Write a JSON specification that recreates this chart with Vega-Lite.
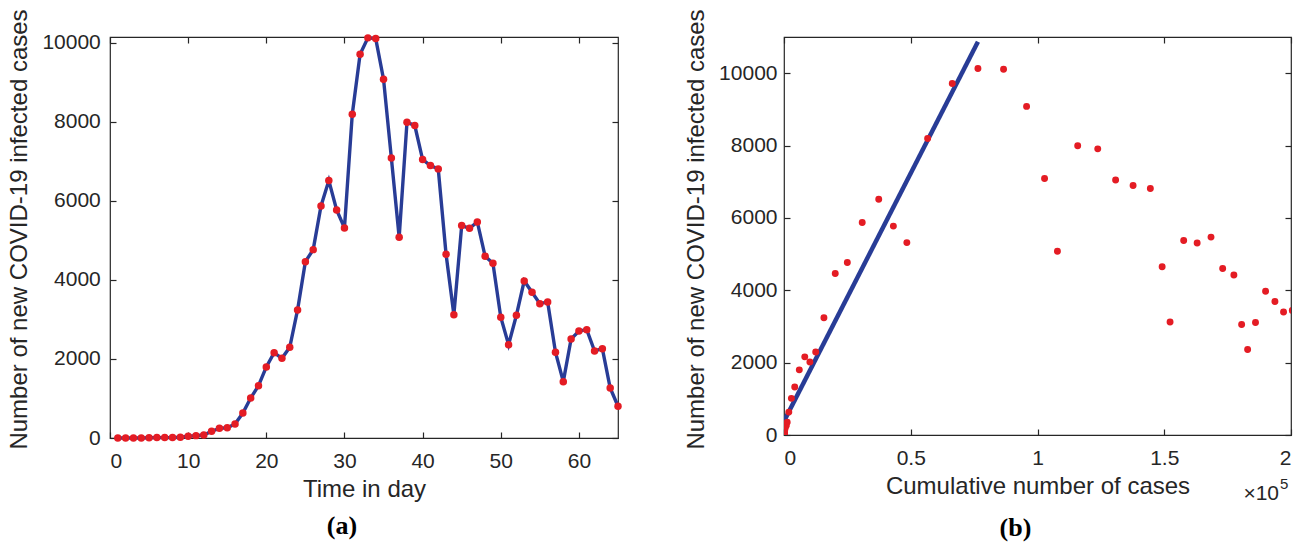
{
  "$schema": "https://vega.github.io/schema/vega-lite/v6.json",
  "background": "white",
  "padding": {"left": 7, "top": 8, "right": 0, "bottom": 0},
  "spacing": 166,
  "bounds": "flush",
  "config": {
    "view": {"stroke": "#262626", "strokeWidth": 1.2},
    "axis": {
      "grid": false, "domain": false,
      "tickColor": "#262626", "tickWidth": 1.2, "tickSize": -6,
      "labelFont": "Liberation Sans", "labelFontSize": 21, "labelColor": "#262626",
      "titleFont": "Liberation Sans", "titleFontSize": 24, "titleFontWeight": "normal", "titleColor": "#262626",
      "labelPadding": 15, "titlePadding": 10, "format": "d"
    },
    "title": {"font": "Liberation Serif", "fontSize": 26, "fontWeight": "bold", "color": "#000000"}
  },
  "datasets": {
    "cases": [
      {"day":1,"new":0,"cum":0},{"day":2,"new":0,"cum":0},{"day":3,"new":0,"cum":0},{"day":4,"new":0,"cum":0},
      {"day":5,"new":5,"cum":5},{"day":6,"new":10,"cum":15},{"day":7,"new":10,"cum":25},{"day":8,"new":10,"cum":35},
      {"day":9,"new":20,"cum":55},{"day":10,"new":45,"cum":100},{"day":11,"new":60,"cum":160},{"day":12,"new":75,"cum":235},
      {"day":13,"new":170,"cum":405},{"day":14,"new":245,"cum":650},{"day":15,"new":260,"cum":910},{"day":16,"new":355,"cum":1265},
      {"day":17,"new":633,"cum":1898},{"day":18,"new":1013,"cum":2911},{"day":19,"new":1325,"cum":4236},{"day":20,"new":1800,"cum":6036},
      {"day":21,"new":2160,"cum":8196},{"day":22,"new":2018,"cum":10214},{"day":23,"new":2296,"cum":12510},{"day":24,"new":3241,"cum":15751},
      {"day":25,"new":4464,"cum":20215},{"day":26,"new":4768,"cum":24983},{"day":27,"new":5874,"cum":30857},{"day":28,"new":6515,"cum":37372},
      {"day":29,"new":5773,"cum":43145},{"day":30,"new":5317,"cum":48462},{"day":31,"new":8196,"cum":56658},{"day":32,"new":9715,"cum":66373},
      {"day":33,"new":10128,"cum":76501},{"day":34,"new":10110,"cum":86611},{"day":35,"new":9082,"cum":95693},{"day":36,"new":7090,"cum":102783},
      {"day":37,"new":5081,"cum":107864},{"day":38,"new":7994,"cum":115858},{"day":39,"new":7908,"cum":123766},{"day":40,"new":7047,"cum":130813},
      {"day":41,"new":6895,"cum":137708},{"day":42,"new":6812,"cum":144520},{"day":43,"new":4651,"cum":149171},{"day":44,"new":3122,"cum":152293},
      {"day":45,"new":5376,"cum":157669},{"day":46,"new":5309,"cum":162978},{"day":47,"new":5469,"cum":168447},{"day":48,"new":4600,"cum":173047},
      {"day":49,"new":4423,"cum":177470},{"day":50,"new":3056,"cum":180526},{"day":51,"new":2362,"cum":182888},{"day":52,"new":3107,"cum":185995},
      {"day":53,"new":3975,"cum":189970},{"day":54,"new":3689,"cum":193659},{"day":55,"new":3401,"cum":197060},{"day":56,"new":3444,"cum":200504},
      {"day":57,"new":2170,"cum":202674},{"day":58,"new":1426,"cum":204100},{"day":59,"new":2507,"cum":206607},{"day":60,"new":2709,"cum":209316},
      {"day":61,"new":2743,"cum":212059},{"day":62,"new":2203,"cum":214262},{"day":63,"new":2262,"cum":216524},{"day":64,"new":1266,"cum":217790},
      {"day":65,"new":803,"cum":218593}
    ],
    "fit": [{"cum":0,"fit":380},{"cum":76501,"fit":10870}],
    "note": [{"base":"×10","exp":"5"}]
  },
  "hconcat": [
    {
      "width": 508, "height": 401,
      "title": {"text": "(a)", "orient": "bottom", "anchor": "middle", "frame": "group", "dx": -22, "offset": 12},
      "layer": [
        {
          "data": {"name": "cases"},
          "mark": {"type": "line", "color": "#283c96", "strokeWidth": 3.4},
          "encoding": {
            "x": {"field": "day", "type": "quantitative", "scale": {"domain": [0, 65], "nice": false, "zero": false},
                  "axis": {"orient": "bottom", "values": [0,10,20,30,40,50,60], "title": "Time in day", "labelPadding": 18, "titlePadding": 6}},
            "y": {"field": "new", "type": "quantitative", "scale": {"domain": [0, 10150], "nice": false},
                  "axis": {"orient": "left", "values": [0,2000,4000,6000,8000,10000], "title": "Number of new COVID-19 infected cases", "labelPadding": 15.7, "titleY": 192}}
          }
        },
        {
          "data": {"name": "cases"},
          "mark": {"type": "point", "filled": true, "color": "#e41c24", "size": 56, "opacity": 1},
          "encoding": {
            "x": {"field": "day", "type": "quantitative", "scale": {"domain": [0, 65], "nice": false, "zero": false},
                  "axis": {"orient": "top", "values": [0,10,20,30,40,50,60], "labels": false, "title": null}},
            "y": {"field": "new", "type": "quantitative", "scale": {"domain": [0, 10150], "nice": false},
                  "axis": {"orient": "right", "values": [0,2000,4000,6000,8000,10000], "labels": false, "title": null}}
          }
        }
      ],
      "resolve": {"axis": {"x": "independent", "y": "independent"}}
    },
    {
      "width": 507, "height": 398,
      "title": {"text": "(b)", "orient": "bottom", "anchor": "middle", "frame": "group", "dx": -22, "offset": 11},
      "layer": [
        {
          "data": {"name": "fit"},
          "mark": {"type": "line", "color": "#283c96", "strokeWidth": 4.5, "clip": true},
          "encoding": {
            "x": {"field": "cum", "type": "quantitative", "scale": {"domain": [0, 200000], "nice": false, "zero": false},
                  "axis": {"orient": "bottom", "values": [0,50000,100000,150000,200000], "labelExpr": "format(datum.value / 100000, '~g')", "title": "Cumulative number of cases", "labelPadding": 18, "titlePadding": 6}},
            "y": {"field": "fit", "type": "quantitative", "scale": {"domain": [0, 11000], "nice": false},
                  "axis": {"orient": "left", "values": [0,2000,4000,6000,8000,10000], "title": "Number of new COVID-19 infected cases", "labelPadding": 13, "titleY": 192}}
          }
        },
        {
          "data": {"name": "cases"},
          "mark": {"type": "point", "filled": true, "color": "#e41c24", "size": 48, "opacity": 1, "clip": true},
          "encoding": {
            "x": {"field": "cum", "type": "quantitative", "scale": {"domain": [0, 200000], "nice": false, "zero": false},
                  "axis": {"orient": "top", "values": [0,50000,100000,150000,200000], "labels": false, "title": null}},
            "y": {"field": "new", "type": "quantitative", "scale": {"domain": [0, 11000], "nice": false},
                  "axis": {"orient": "right", "values": [0,2000,4000,6000,8000,10000], "labels": false, "title": null}}
          }
        },
        {
          "data": {"name": "note"},
          "mark": {"type": "text", "align": "right", "baseline": "alphabetic", "font": "Liberation Sans", "fontSize": 21, "color": "#262626", "dx": -12},
          "encoding": {
            "x": {"datum": 200000, "type": "quantitative", "axis": null},
            "y": {"datum": -1800, "type": "quantitative", "axis": null},
            "text": {"field": "base"}
          }
        },
        {
          "data": {"name": "note"},
          "mark": {"type": "text", "align": "left", "baseline": "alphabetic", "font": "Liberation Sans", "fontSize": 15, "color": "#262626", "dx": -11, "dy": -11},
          "encoding": {
            "x": {"datum": 200000, "type": "quantitative", "axis": null},
            "y": {"datum": -1800, "type": "quantitative", "axis": null},
            "text": {"field": "exp"}
          }
        }
      ],
      "resolve": {"axis": {"x": "independent", "y": "independent"}}
    }
  ]
}
